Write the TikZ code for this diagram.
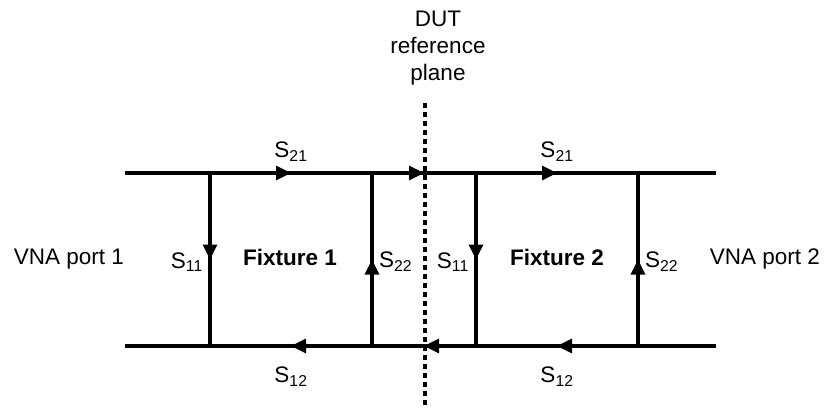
\documentclass[tikz,border=0pt]{standalone}
\usepackage{fontspec}
\setmainfont{Liberation Sans}
\usetikzlibrary{arrows.meta,decorations.markings}
\begin{document}
\begin{tikzpicture}[x=1pt,y=-1pt,
  wire/.style={line width=3.2pt},
  midarrow/.style={postaction={decorate},decoration={markings,
     mark=at position 0.5 with {\arrow{Triangle[length=15pt,width=14pt]}}}},
  lbl/.style={inner sep=0pt,font=\fontsize{22.5}{28}\selectfont},
  bold/.style={inner sep=0pt,font=\fontsize{22.5}{28}\selectfont\bfseries},
  plane/.style={line width=3.2pt,dash pattern=on 5pt off 4pt}]
\useasboundingbox (0,0) rectangle (827,407);
% coordinates
\coordinate (TL) at (125,173); \coordinate (TR) at (716,173);
\coordinate (BL) at (125,346); \coordinate (BR) at (716,346);
\coordinate (A) at (210,173); \coordinate (Ab) at (210,346);
\coordinate (B) at (372,173); \coordinate (Bb) at (372,346);
\coordinate (C) at (476,173); \coordinate (Cb) at (476,346);
\coordinate (D) at (638,173); \coordinate (Db) at (638,346);
\coordinate (Ptop) at (425,103); \coordinate (Pbot) at (425,407);
% plane
\draw[plane] (Ptop) -- (Pbot);
% horizontal lines
\draw[wire] (TL) -- (A);
\draw[wire,midarrow] (A) -- (B);
\draw[wire,midarrow] (B) -- (C);
\draw[wire,midarrow] (C) -- (D);
\draw[wire] (D) -- (TR);
\draw[wire] (BL) -- (Ab);
\draw[wire,midarrow] (Bb) -- (Ab);
\draw[wire,midarrow] (Cb) -- (Bb);
\draw[wire,midarrow] (Db) -- (Cb);
\draw[wire] (Db) -- (BR);
% verticals
\draw[wire,midarrow] (A) -- (Ab);
\draw[wire,midarrow] (Bb) -- (B);
\draw[line width=3.6pt,midarrow] (C) -- (Cb);
\draw[wire,midarrow] (Db) -- (D);
% labels
\node[lbl] (dut) at (438,48) {\begin{tabular}{@{}c@{}}DUT\\[-1pt]reference\\[-1pt]plane\end{tabular}};
\node[lbl] (vna1) at (69,259) {VNA port 1};
\node[lbl] (vna2) at (765,259) {VNA port 2};
\node[bold] (fx1) at (290,257) {Fixture 1};
\node[bold] (fx2) at (557,257) {Fixture 2};
\node[lbl,anchor=east] (s11a) at (203,262) {S\textsubscript{11}};
\node[lbl,anchor=west] (s22a) at (379,262) {S\textsubscript{22}};
\node[lbl,anchor=east] (s11b) at (469,262) {S\textsubscript{11}};
\node[lbl,anchor=west] (s22b) at (645,262) {S\textsubscript{22}};
\node[lbl] (s21a) at (291,152) {S\textsubscript{21}};
\node[lbl] (s21b) at (557,152) {S\textsubscript{21}};
\node[lbl] (s12a) at (291,377) {S\textsubscript{12}};
\node[lbl] (s12b) at (557,377) {S\textsubscript{12}};
\end{tikzpicture}
\end{document}
